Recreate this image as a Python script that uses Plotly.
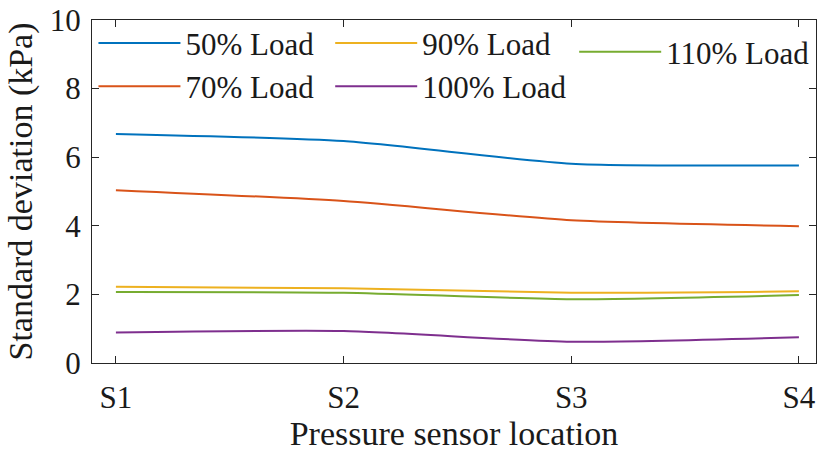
import plotly.graph_objects as go

categories = ["S1", "S2", "S3", "S4"]
load_50 = [6.68, 6.47, 5.81, 5.76]
load_70 = [5.04, 4.72, 4.16, 3.99]
load_90 = [2.22, 2.18, 2.05, 2.09]
load_100 = [0.89, 0.93, 0.62, 0.75]
load_110 = [2.07, 2.05, 1.86, 1.98]
y_ticks = [0, 2, 4, 6, 8, 10]

FONT = "Liberation Serif, Times New Roman, serif"
TXT = "#1a1a1a"
AX = "#262626"

series = [
    ("50% Load", load_50, "#0072BD", "legend"),
    ("70% Load", load_70, "#D95319", "legend"),
    ("90% Load", load_90, "#EDB120", "legend2"),
    ("100% Load", load_100, "#7E2F8E", "legend2"),
    ("110% Load", load_110, "#77AC30", "legend3"),
]

fig = go.Figure()
for name, vals, col, lg in series:
    fig.add_trace(go.Scatter(
        x=categories, y=vals, name=name, mode="lines",
        line=dict(color=col, width=2, shape="spline", smoothing=0.6),
        legend=lg,
    ))

leg_common = dict(
    bgcolor="rgba(0,0,0,0)", borderwidth=0,
    font=dict(family=FONT, size=31, color=TXT),
    yanchor="top", xanchor="left", tracegroupgap=0,
    itemwidth=82,
)

fig.update_layout(
    width=818, height=452,
    margin=dict(l=92, r=2, t=20, b=89),
    paper_bgcolor="white", plot_bgcolor="white",
    font=dict(family=FONT, color=TXT),
    legend=dict(x=0.002, y=1.011, **leg_common),
    legend2=dict(x=0.329, y=1.011, **leg_common),
    legend3=dict(x=0.666, y=0.985, **leg_common),
    xaxis=dict(
        type="category", range=[-0.105, 3.075], automargin=False,
        showline=True, linecolor=AX, linewidth=1.3, mirror="ticks",
        ticks="inside", ticklen=7, tickwidth=1.3, tickcolor=AX,
        showgrid=False, zeroline=False,
        tickfont=dict(family=FONT, size=31, color=TXT),
        ticklabelstandoff=7,
        title=dict(text="Pressure sensor location",
                   font=dict(family=FONT, size=34, color=TXT), standoff=4),
    ),
    yaxis=dict(
        range=[0, 10], tickvals=y_ticks, automargin=False,
        showline=True, linecolor=AX, linewidth=1.3, mirror="ticks",
        ticks="inside", ticklen=7, tickwidth=1.3, tickcolor=AX,
        showgrid=False, zeroline=False,
        tickfont=dict(family=FONT, size=31, color=TXT),
        ticklabelstandoff=4,
        title=dict(text="Standard deviation (kPa)",
                   font=dict(family=FONT, size=34, color=TXT), standoff=6),
    ),
)

fig.write_html(
    "out.html",
    config={"displayModeBar": False},
    post_script="document.body.style.margin='0';document.body.style.overflow='hidden';",
)
